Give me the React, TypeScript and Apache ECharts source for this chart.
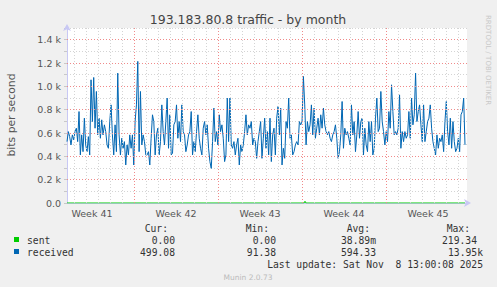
import React, { useEffect, useRef } from "react";
import * as echarts from "echarts";

// ---- data ----
const title = "193.183.80.8 traffic - by month";
const yAxisName = "bits per second";
const weekLabels = ["Week 41", "Week 42", "Week 43", "Week 44", "Week 45"];
// week centres in days since Monday of week 41
const weekCenters = [3.5, 10.5, 17.5, 24.5, 31.5];
const weekBoundaries = [7, 14, 21, 28];
const firstDay = 1.4167; // left edge of graph (days since Monday wk 41)
const lastDataDay = 34.583;
const axisEndDay = 34.75;

// received bits/s, evenly spaced samples over the month
const receivedValues = [
  526, 612, 569, 498, 584, 541, 612, 641, 526, 784, 412, 584, 440, 727, 498, 440, 569, 412, 1056, 698,
  1076, 641, 956, 584, 727, 555, 713, 584, 670, 612, 498, 469, 698, 841, 584, 412, 670, 440, 1113, 584,
  412, 555, 469, 526, 326, 498, 412, 584, 469, 584, 326, 698, 841, 1214, 440, 956, 498, 584, 526, 412,
  412, 440, 326, 555, 756, 698, 412, 584, 641, 412, 526, 841,
  612, 498, 698, 899, 469, 756, 412, 426, 670, 698, 841, 555, 698, 526, 841, 612, 584, 440, 498, 584,
  612, 784, 412, 526, 440, 612, 756, 555, 469, 412, 641, 698, 584, 670, 469, 355, 297, 526, 813, 526,
  612, 498, 756, 612, 670, 555, 355, 412, 899, 526, 899, 498, 469, 526, 412, 498, 555, 326, 498, 440,
  498, 612, 756, 584, 670, 641, 698, 498, 555, 526, 383, 526, 612,
  698, 383, 555, 727, 469, 612, 412, 727, 355, 584, 641, 412, 727, 827, 584, 813, 326, 469, 383, 698,
  641, 899, 555, 584, 412, 440, 498, 526, 498, 698, 670, 698, 1085, 841, 498, 698, 612, 670, 841, 584,
  813, 555, 641, 727, 584, 756, 641, 813, 670, 612, 584, 612, 555, 526, 584, 612, 670, 555, 383, 440,
  584, 870, 469, 641, 584, 612, 555, 498, 841, 584, 698, 440, 584, 784, 555, 698,
  727, 412, 641, 498, 440, 698, 526, 698, 412, 469, 727, 899, 612, 641, 956, 698, 612, 498, 612, 526,
  784, 641, 1013, 784, 584, 612, 584, 641, 927, 469, 612, 526, 612, 555, 584, 784, 555, 899, 670, 756,
  1113, 698, 784, 841, 670, 526, 841, 526, 612, 698, 727, 841, 641, 526, 469, 412, 584, 469, 555, 526,
  584, 440, 698, 870, 612, 498, 727, 469, 698, 526, 440, 469, 555, 440, 756, 784, 899, 498,
];

// sent bits/s (flat at zero with one small blip)
const sentDays = [1.4167, 21.17, 21.25, 21.33, 34.583];
const sentValues = [0, 0, 15, 0, 0];

// legend table
const legendHeaders = ["Cur:", "Min:", "Avg:", "Max:"];
const sentStats = ["0.00", "0.00", "38.89m", "219.34"];
const receivedStats = ["499.08", "91.38", "594.33", "13.95k"];
const lastUpdate = "Last update: Sat Nov  8 13:00:08 2025";
const footer = "Munin 2.0.73";
const sideText = "RRDTOOL / TOBI OETIKER";

const yTicks = [200, 400, 600, 800, 1000, 1200, 1400];

export default function App() {
  const ref = useRef<HTMLDivElement>(null);
  useEffect(() => {
    if (!ref.current) return;
    const chart = echarts.init(ref.current, undefined, { renderer: "svg" });
    const n = receivedValues.length;
    const step = (lastDataDay - firstDay) / (n - 1);
    const received = receivedValues.map((v, i) => [firstDay + i * step, v]);
    const sent = sentValues.map((v, i) => [sentDays[i], v]);
    const dayLines: number[] = [];
    for (let d = 2; d <= 34; d++) if (!weekBoundaries.includes(d)) dayLines.push(d);

    const sans = "DejaVu Sans";
    const mono = "DejaVu Sans Mono";
    const monoFont = `9.7px "${mono}"`;
    const txt = "#333";

    const colRight = [168, 269, 370, 470];
    const valRight = [175, 276, 376, 477];
    const valRightWide = [175, 276, 376, 483];

    const graphic: any[] = [
      {
        type: "text",
        x: 248,
        y: 19,
        style: { text: title, font: `12.5px "${sans}"`, fill: "#444", align: "center", verticalAlign: "middle" },
      },
      {
        type: "text",
        x: 11,
        y: 115,
        rotation: Math.PI / 2,
        style: { text: yAxisName, font: `10.8px "${sans}"`, fill: "#555", align: "center", verticalAlign: "middle" },
      },
      {
        type: "text",
        x: 488,
        y: 15,
        rotation: -Math.PI / 2,
        style: { text: sideText, font: `7px "${sans}"`, fill: "#c8c8c8", align: "left", verticalAlign: "middle" },
      },
      {
        type: "text",
        x: 248,
        y: 277,
        style: { text: footer, font: `7.5px "${sans}"`, fill: "#bbb", align: "center", verticalAlign: "middle" },
      },
      { type: "rect", shape: { x: 14, y: 237, width: 5, height: 5 }, style: { fill: "#00cc00" } },
      { type: "rect", shape: { x: 14, y: 249, width: 5, height: 5 }, style: { fill: "#0066b3" } },
      { type: "text", x: 27, y: 240, style: { text: "sent", font: monoFont, fill: txt, verticalAlign: "middle" } },
      { type: "text", x: 27, y: 252, style: { text: "received", font: monoFont, fill: txt, verticalAlign: "middle" } },
      {
        type: "text",
        x: 483,
        y: 264,
        style: { text: lastUpdate, font: monoFont, fill: txt, align: "right", verticalAlign: "middle" },
      },
    ];
    legendHeaders.forEach((h, i) =>
      graphic.push({ type: "text", x: colRight[i], y: 228, style: { text: h, font: monoFont, fill: txt, align: "right", verticalAlign: "middle" } })
    );
    sentStats.forEach((s, i) =>
      graphic.push({ type: "text", x: valRight[i], y: 240, style: { text: s, font: monoFont, fill: txt, align: "right", verticalAlign: "middle" } })
    );
    receivedStats.forEach((s, i) =>
      graphic.push({ type: "text", x: valRightWide[i], y: 252, style: { text: s, font: monoFont, fill: txt, align: "right", verticalAlign: "middle" } })
    );

    const dot = [1, 2];
    chart.setOption({
      animation: false,
      backgroundColor: "#f0f0f0",
      grid: { left: 67, right: 30, top: 28, bottom: 84, show: true, backgroundColor: "#ffffff", borderWidth: 0 },
      xAxis: {
        type: "value",
        min: firstDay,
        max: axisEndDay,
        splitLine: { show: false },
        axisTick: { show: false },
        axisLine: {
          show: true,
          lineStyle: { color: "#c8c8f4", width: 1 },
          symbol: ["none", "arrow"],
          symbolSize: [6, 7],
          symbolOffset: [0, 4],
        },
        axisLabel: {
          customValues: weekCenters,
          formatter: (v: number) => {
            const i = weekCenters.findIndex((c) => Math.abs(c - v) < 0.01);
            return i >= 0 ? weekLabels[i] : "";
          },
          color: "#555",
          fontFamily: sans,
          fontSize: 9.5,
          margin: 5,
        },
      },
      yAxis: {
        type: "value",
        min: 0,
        max: 1500,
        interval: 100,
        axisLine: {
          show: true,
          lineStyle: { color: "#c8c8f4", width: 1 },
          symbol: ["none", "arrow"],
          symbolSize: [6, 7],
          symbolOffset: [0, 4],
        },
        axisTick: { show: true, length: 3, lineStyle: { color: "#c8c8c8" } },
        splitLine: { show: true, lineStyle: { color: "#d4d4d4", type: dot, width: 1 } },
        axisLabel: {
          color: "#555",
          fontFamily: sans,
          fontSize: 9.5,
          margin: 6,
          formatter: (v: number) => {
            if (v === 0) return "0.0";
            if (v % 200 !== 0) return "";
            return (v / 1000).toFixed(1) + " k";
          },
        },
      },
      series: [
        {
          name: "grid",
          type: "line",
          data: [],
          z: 1,
          silent: true,
          markLine: {
            silent: true,
            symbol: "none",
            label: { show: false },
            animation: false,
            lineStyle: { color: "#d4d4d4", type: dot, width: 1 },
            data: [
              ...dayLines.map((d) => ({ xAxis: d })),
              ...weekBoundaries.map((d) => ({ xAxis: d, lineStyle: { color: "#f08a8a", type: dot, width: 1 } })),
              ...yTicks.map((v) => ({ yAxis: v, lineStyle: { color: "#f08a8a", type: dot, width: 1 } })),
            ],
          },
        },
        {
          name: "received",
          type: "line",
          data: received,
          showSymbol: false,
          z: 3,
          lineStyle: { color: "#0066b3", width: 1 },
          itemStyle: { color: "#0066b3" },
        },
        {
          name: "sent",
          type: "line",
          data: sent,
          showSymbol: false,
          z: 4,
          lineStyle: { color: "#00cc00", width: 1 },
          itemStyle: { color: "#00cc00" },
        },
      ],
      graphic,
    });
    return () => chart.dispose();
  }, []);
  return <div ref={ref} style={{ position: "fixed", left: 0, top: 0, width: 497, height: 287 }} />;
}
